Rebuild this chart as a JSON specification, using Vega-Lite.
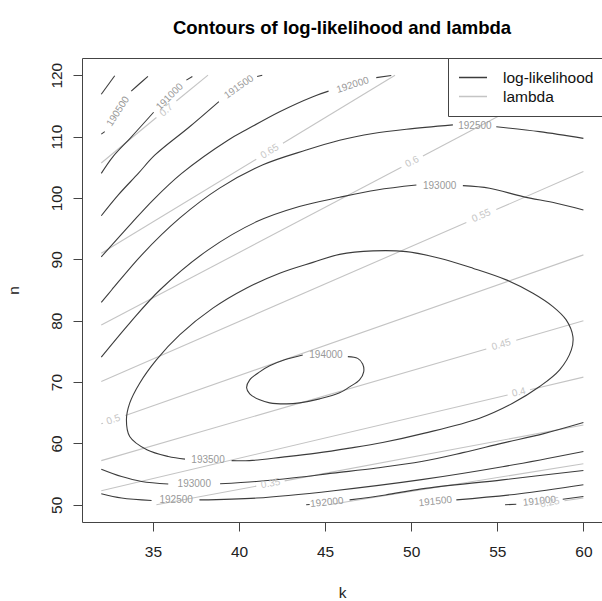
{
"$schema": "https://vega.github.io/schema/vega-lite/v6.json",
"width": 520, "height": 464,
"autosize": "none",
"padding": {"left": 82, "top": 58, "right": 0, "bottom": 79},
"background": "white",
"title": {"text": "Contours of log-likelihood and lambda", "fontSize": 18.5, "font": "Liberation Sans", "fontWeight": "bold", "color": "#000", "anchor": "middle", "baseline": "alphabetic", "offset": 5},
"config": {"view": {"stroke": "#444", "strokeWidth": 1}},
"datasets": {
"curves": [
{"seg":"ll190000","type":"log-likelihood","ord":1,"k":32,"n":116.9},{"seg":"ll190000","type":"log-likelihood","ord":2,"k":32.78,"n":119.9},
{"seg":"ll190500a","type":"log-likelihood","ord":1,"k":32,"n":110.4},{"seg":"ll190500a","type":"log-likelihood","ord":2,"k":32.2,"n":110.8},
{"seg":"ll190500b","type":"log-likelihood","ord":1,"k":33.74,"n":117.4},{"seg":"ll190500b","type":"log-likelihood","ord":2,"k":34.22,"n":118.6},{"seg":"ll190500b","type":"log-likelihood","ord":3,"k":34.71,"n":119.8},
{"seg":"ll191000a","type":"log-likelihood","ord":1,"k":32,"n":104.0},{"seg":"ll191000a","type":"log-likelihood","ord":2,"k":32.67,"n":106.7},{"seg":"ll191000a","type":"log-likelihood","ord":3,"k":33.7,"n":109.8},{"seg":"ll191000a","type":"log-likelihood","ord":4,"k":35.04,"n":113.96},
{"seg":"ll191000b","type":"log-likelihood","ord":1,"k":36.94,"n":119.2},{"seg":"ll191000b","type":"log-likelihood","ord":2,"k":37.29,"n":119.8},
{"seg":"ll191500a","type":"log-likelihood","ord":1,"k":32,"n":97.1},{"seg":"ll191500a","type":"log-likelihood","ord":2,"k":32.99,"n":100.5},{"seg":"ll191500a","type":"log-likelihood","ord":3,"k":34.15,"n":104.0},{"seg":"ll191500a","type":"log-likelihood","ord":4,"k":35.12,"n":107.0},{"seg":"ll191500a","type":"log-likelihood","ord":5,"k":37.13,"n":111.6},{"seg":"ll191500a","type":"log-likelihood","ord":6,"k":38.83,"n":115.7},
{"seg":"ll191500b","type":"log-likelihood","ord":1,"k":41.05,"n":119.8},{"seg":"ll191500b","type":"log-likelihood","ord":2,"k":41.35,"n":120.0},
{"seg":"ll192000a","type":"log-likelihood","ord":1,"k":32,"n":90.4},{"seg":"ll192000a","type":"log-likelihood","ord":2,"k":33.76,"n":95.9},{"seg":"ll192000a","type":"log-likelihood","ord":3,"k":35.02,"n":99.7},{"seg":"ll192000a","type":"log-likelihood","ord":4,"k":36.67,"n":104.0},{"seg":"ll192000a","type":"log-likelihood","ord":5,"k":39.38,"n":109.45},{"seg":"ll192000a","type":"log-likelihood","ord":6,"k":40.42,"n":111.1},{"seg":"ll192000a","type":"log-likelihood","ord":7,"k":42.36,"n":114.05},{"seg":"ll192000a","type":"log-likelihood","ord":8,"k":44.29,"n":116.5},{"seg":"ll192000a","type":"log-likelihood","ord":9,"k":45.2,"n":117.4},
{"seg":"ll192000b","type":"log-likelihood","ord":1,"k":47.97,"n":119.6},{"seg":"ll192000b","type":"log-likelihood","ord":2,"k":48.84,"n":119.95},
{"seg":"ll192500a","type":"log-likelihood","ord":1,"k":32,"n":83.0},{"seg":"ll192500a","type":"log-likelihood","ord":2,"k":32.6,"n":85.0},{"seg":"ll192500a","type":"log-likelihood","ord":3,"k":34.34,"n":90.7},{"seg":"ll192500a","type":"log-likelihood","ord":4,"k":36.55,"n":96.7},{"seg":"ll192500a","type":"log-likelihood","ord":5,"k":38.87,"n":101.6},{"seg":"ll192500a","type":"log-likelihood","ord":6,"k":41.39,"n":105.4},{"seg":"ll192500a","type":"log-likelihood","ord":7,"k":43.9,"n":107.8},{"seg":"ll192500a","type":"log-likelihood","ord":8,"k":45.84,"n":109.4},{"seg":"ll192500a","type":"log-likelihood","ord":9,"k":47.78,"n":110.5},{"seg":"ll192500a","type":"log-likelihood","ord":10,"k":49.72,"n":111.2},{"seg":"ll192500a","type":"log-likelihood","ord":11,"k":52.42,"n":111.9},
{"seg":"ll192500b","type":"log-likelihood","ord":1,"k":54.94,"n":111.6},{"seg":"ll192500b","type":"log-likelihood","ord":2,"k":57.45,"n":110.8},{"seg":"ll192500b","type":"log-likelihood","ord":3,"k":60,"n":109.7},
{"seg":"ll193000a","type":"log-likelihood","ord":1,"k":32,"n":74.05},{"seg":"ll193000a","type":"log-likelihood","ord":2,"k":33.65,"n":79.6},{"seg":"ll193000a","type":"log-likelihood","ord":3,"k":35.4,"n":85.0},{"seg":"ll193000a","type":"log-likelihood","ord":4,"k":38.19,"n":91.5},{"seg":"ll193000a","type":"log-likelihood","ord":5,"k":41.0,"n":96.1},{"seg":"ll193000a","type":"log-likelihood","ord":6,"k":43.5,"n":98.6},{"seg":"ll193000a","type":"log-likelihood","ord":7,"k":45.84,"n":100.1},{"seg":"ll193000a","type":"log-likelihood","ord":8,"k":48,"n":101.3},{"seg":"ll193000a","type":"log-likelihood","ord":9,"k":50.3,"n":102.1},
{"seg":"ll193000b","type":"log-likelihood","ord":1,"k":53.0,"n":102.0},{"seg":"ll193000b","type":"log-likelihood","ord":2,"k":54.55,"n":101.58},{"seg":"ll193000b","type":"log-likelihood","ord":3,"k":56.49,"n":100.21},{"seg":"ll193000b","type":"log-likelihood","ord":4,"k":58.43,"n":99.14},{"seg":"ll193000b","type":"log-likelihood","ord":5,"k":60,"n":98.04},
{"seg":"ll193500","type":"log-likelihood","ord":1,"k":39.57,"n":57.2},{"seg":"ll193500","type":"log-likelihood","ord":2,"k":40.6,"n":57.2},{"seg":"ll193500","type":"log-likelihood","ord":3,"k":42.53,"n":57.77},{"seg":"ll193500","type":"log-likelihood","ord":4,"k":44.5,"n":58.42},{"seg":"ll193500","type":"log-likelihood","ord":5,"k":46.42,"n":59.23},{"seg":"ll193500","type":"log-likelihood","ord":6,"k":48.34,"n":60.15},{"seg":"ll193500","type":"log-likelihood","ord":7,"k":50.78,"n":61.68},{"seg":"ll193500","type":"log-likelihood","ord":8,"k":53.97,"n":64.12},{"seg":"ll193500","type":"log-likelihood","ord":9,"k":55.89,"n":66.56},{"seg":"ll193500","type":"log-likelihood","ord":10,"k":57.46,"n":69.27},{"seg":"ll193500","type":"log-likelihood","ord":11,"k":58.62,"n":71.99},{"seg":"ll193500","type":"log-likelihood","ord":12,"k":59.3,"n":75.24},{"seg":"ll193500","type":"log-likelihood","ord":13,"k":59.39,"n":77.41},{"seg":"ll193500","type":"log-likelihood","ord":14,"k":59.0,"n":80.13},{"seg":"ll193500","type":"log-likelihood","ord":15,"k":58.23,"n":82.3},{"seg":"ll193500","type":"log-likelihood","ord":16,"k":57.07,"n":84.48},{"seg":"ll193500","type":"log-likelihood","ord":17,"k":55.52,"n":86.65},{"seg":"ll193500","type":"log-likelihood","ord":18,"k":53.58,"n":88.55},{"seg":"ll193500","type":"log-likelihood","ord":19,"k":51.65,"n":90.18},{"seg":"ll193500","type":"log-likelihood","ord":20,"k":49.72,"n":91.25},{"seg":"ll193500","type":"log-likelihood","ord":21,"k":47.78,"n":91.37},{"seg":"ll193500","type":"log-likelihood","ord":22,"k":45.84,"n":90.8},{"seg":"ll193500","type":"log-likelihood","ord":23,"k":44.29,"n":89.5},{"seg":"ll193500","type":"log-likelihood","ord":24,"k":42.36,"n":87.74},{"seg":"ll193500","type":"log-likelihood","ord":25,"k":40.42,"n":85.29},{"seg":"ll193500","type":"log-likelihood","ord":26,"k":38.48,"n":82.04},{"seg":"ll193500","type":"log-likelihood","ord":27,"k":36.55,"n":77.69},{"seg":"ll193500","type":"log-likelihood","ord":28,"k":35.2,"n":73.62},{"seg":"ll193500","type":"log-likelihood","ord":29,"k":34.23,"n":69.82},{"seg":"ll193500","type":"log-likelihood","ord":30,"k":33.65,"n":66.56},{"seg":"ll193500","type":"log-likelihood","ord":31,"k":33.46,"n":63.84},{"seg":"ll193500","type":"log-likelihood","ord":32,"k":33.65,"n":61.12},{"seg":"ll193500","type":"log-likelihood","ord":33,"k":34.65,"n":58.96},{"seg":"ll193500","type":"log-likelihood","ord":34,"k":35.89,"n":57.87},{"seg":"ll193500","type":"log-likelihood","ord":35,"k":36.86,"n":57.44},
{"seg":"ll194000","type":"log-likelihood","ord":1,"k":46.32,"n":74.15},{"seg":"ll194000","type":"log-likelihood","ord":2,"k":46.89,"n":73.86},{"seg":"ll194000","type":"log-likelihood","ord":3,"k":47.18,"n":72.96},{"seg":"ll194000","type":"log-likelihood","ord":4,"k":47.24,"n":71.66},{"seg":"ll194000","type":"log-likelihood","ord":5,"k":47.0,"n":70.36},{"seg":"ll194000","type":"log-likelihood","ord":6,"k":46.42,"n":69.22},{"seg":"ll194000","type":"log-likelihood","ord":7,"k":45.84,"n":68.24},{"seg":"ll194000","type":"log-likelihood","ord":8,"k":44.68,"n":67.26},{"seg":"ll194000","type":"log-likelihood","ord":9,"k":43.52,"n":66.61},{"seg":"ll194000","type":"log-likelihood","ord":10,"k":42.77,"n":66.45},{"seg":"ll194000","type":"log-likelihood","ord":11,"k":41.78,"n":66.61},{"seg":"ll194000","type":"log-likelihood","ord":12,"k":41.2,"n":67.1},{"seg":"ll194000","type":"log-likelihood","ord":13,"k":40.62,"n":68.08},{"seg":"ll194000","type":"log-likelihood","ord":14,"k":40.44,"n":69.06},{"seg":"ll194000","type":"log-likelihood","ord":15,"k":40.62,"n":70.36},{"seg":"ll194000","type":"log-likelihood","ord":16,"k":41.2,"n":71.66},{"seg":"ll194000","type":"log-likelihood","ord":17,"k":41.78,"n":72.64},{"seg":"ll194000","type":"log-likelihood","ord":18,"k":42.65,"n":73.62},{"seg":"ll194000","type":"log-likelihood","ord":19,"k":43.7,"n":74.4},
{"seg":"ll193000c","type":"log-likelihood","ord":1,"k":32,"n":55.8},{"seg":"ll193000c","type":"log-likelihood","ord":2,"k":33.18,"n":54.6},{"seg":"ll193000c","type":"log-likelihood","ord":3,"k":34.34,"n":53.8},{"seg":"ll193000c","type":"log-likelihood","ord":4,"k":35.89,"n":53.4},
{"seg":"ll193000d","type":"log-likelihood","ord":1,"k":38.9,"n":53.42},{"seg":"ll193000d","type":"log-likelihood","ord":2,"k":41.0,"n":53.8},{"seg":"ll193000d","type":"log-likelihood","ord":3,"k":43.2,"n":54.4},{"seg":"ll193000d","type":"log-likelihood","ord":4,"k":45.45,"n":55.16},{"seg":"ll193000d","type":"log-likelihood","ord":5,"k":48.0,"n":56.0},{"seg":"ll193000d","type":"log-likelihood","ord":6,"k":50.6,"n":57.05},{"seg":"ll193000d","type":"log-likelihood","ord":7,"k":53.0,"n":58.5},{"seg":"ll193000d","type":"log-likelihood","ord":8,"k":55.3,"n":60.05},{"seg":"ll193000d","type":"log-likelihood","ord":9,"k":57.7,"n":61.6},{"seg":"ll193000d","type":"log-likelihood","ord":10,"k":60,"n":63.4},
{"seg":"ll192500c","type":"log-likelihood","ord":1,"k":32,"n":51.8},{"seg":"ll192500c","type":"log-likelihood","ord":2,"k":33.18,"n":51.1},{"seg":"ll192500c","type":"log-likelihood","ord":3,"k":34.92,"n":50.7},
{"seg":"ll192500d","type":"log-likelihood","ord":1,"k":37.7,"n":50.8},{"seg":"ll192500d","type":"log-likelihood","ord":2,"k":41.02,"n":51.1},{"seg":"ll192500d","type":"log-likelihood","ord":3,"k":45.5,"n":52.3},{"seg":"ll192500d","type":"log-likelihood","ord":4,"k":50.6,"n":54.1},{"seg":"ll192500d","type":"log-likelihood","ord":5,"k":55.3,"n":56.2},{"seg":"ll192500d","type":"log-likelihood","ord":6,"k":60,"n":58.7},
{"seg":"ll192000c","type":"log-likelihood","ord":1,"k":43.9,"n":50.0},{"seg":"ll192000c","type":"log-likelihood","ord":2,"k":44.1,"n":50.05},
{"seg":"ll192000d","type":"log-likelihood","ord":1,"k":46.42,"n":50.8},{"seg":"ll192000d","type":"log-likelihood","ord":2,"k":48.5,"n":51.6},{"seg":"ll192000d","type":"log-likelihood","ord":3,"k":50.6,"n":52.6},{"seg":"ll192000d","type":"log-likelihood","ord":4,"k":55.3,"n":54.07},{"seg":"ll192000d","type":"log-likelihood","ord":5,"k":60,"n":55.6},
{"seg":"ll191500c","type":"log-likelihood","ord":1,"k":52.62,"n":50.8},{"seg":"ll191500c","type":"log-likelihood","ord":2,"k":56.3,"n":51.8},{"seg":"ll191500c","type":"log-likelihood","ord":3,"k":60,"n":53.26},
{"seg":"ll191000c","type":"log-likelihood","ord":1,"k":55.45,"n":50.0},{"seg":"ll191000c","type":"log-likelihood","ord":2,"k":56.1,"n":50.1},
{"seg":"ll191000d","type":"log-likelihood","ord":1,"k":58.8,"n":50.9},{"seg":"ll191000d","type":"log-likelihood","ord":2,"k":60,"n":51.35},
{"seg":"l070a","type":"lambda","ord":1,"k":32,"n":105.7},{"seg":"l070a","type":"lambda","ord":2,"k":35.2,"n":113.1},
{"seg":"l070b","type":"lambda","ord":1,"k":36.36,"n":115.8},{"seg":"l070b","type":"lambda","ord":2,"k":38.2,"n":120},
{"seg":"l065a","type":"lambda","ord":1,"k":32,"n":91.0},{"seg":"l065a","type":"lambda","ord":2,"k":41.0,"n":106.3},
{"seg":"l065b","type":"lambda","ord":1,"k":42.55,"n":108.9},{"seg":"l065b","type":"lambda","ord":2,"k":49.06,"n":120},
{"seg":"l060a","type":"lambda","ord":1,"k":32,"n":79.3},{"seg":"l060a","type":"lambda","ord":2,"k":49.43,"n":105.0},
{"seg":"l060b","type":"lambda","ord":1,"k":50.68,"n":106.85},{"seg":"l060b","type":"lambda","ord":2,"k":59.6,"n":120},
{"seg":"l055a","type":"lambda","ord":1,"k":32,"n":70.1},{"seg":"l055a","type":"lambda","ord":2,"k":53.2,"n":96.0},
{"seg":"l055b","type":"lambda","ord":1,"k":54.94,"n":98.1},{"seg":"l055b","type":"lambda","ord":2,"k":60,"n":104.3},
{"seg":"l050a","type":"lambda","ord":1,"k":32,"n":63.2},{"seg":"l050a","type":"lambda","ord":2,"k":32.1,"n":63.3},
{"seg":"l050b","type":"lambda","ord":1,"k":33.4,"n":64.56},{"seg":"l050b","type":"lambda","ord":2,"k":60,"n":90.72},
{"seg":"l045a","type":"lambda","ord":1,"k":32,"n":57.2},{"seg":"l045a","type":"lambda","ord":2,"k":54.36,"n":75.4},
{"seg":"l045b","type":"lambda","ord":1,"k":56.1,"n":76.82},{"seg":"l045b","type":"lambda","ord":2,"k":60,"n":80.0},
{"seg":"l040a","type":"lambda","ord":1,"k":32,"n":52.3},{"seg":"l040a","type":"lambda","ord":2,"k":55.6,"n":67.9},
{"seg":"l040b","type":"lambda","ord":1,"k":56.9,"n":68.76},{"seg":"l040b","type":"lambda","ord":2,"k":60,"n":70.8},
{"seg":"l035a","type":"lambda","ord":1,"k":35.2,"n":50},{"seg":"l035a","type":"lambda","ord":2,"k":41.0,"n":53.04},
{"seg":"l035b","type":"lambda","ord":1,"k":42.65,"n":53.9},{"seg":"l035b","type":"lambda","ord":2,"k":60,"n":63.0},
{"seg":"l030","type":"lambda","ord":1,"k":45.2,"n":50},{"seg":"l030","type":"lambda","ord":2,"k":60,"n":56.7},
{"seg":"l025","type":"lambda","ord":1,"k":58.9,"n":50.65},{"seg":"l025","type":"lambda","ord":2,"k":60,"n":51.1}
],
"labels": [
{"id":"190500","text":"190500","type":"log-likelihood","k":32.97,"n":114.1},
{"id":"191000u","text":"191000","type":"log-likelihood","k":35.97,"n":116.5},
{"id":"191500u","text":"191500","type":"log-likelihood","k":39.99,"n":118.1},
{"id":"192000u","text":"192000","type":"log-likelihood","k":46.6,"n":118.4},
{"id":"192500u","text":"192500","type":"log-likelihood","k":53.7,"n":111.75},
{"id":"193000u","text":"193000","type":"log-likelihood","k":51.65,"n":102.0},
{"id":"193500","text":"193500","type":"log-likelihood","k":38.2,"n":57.3},
{"id":"194000","text":"194000","type":"log-likelihood","k":45.05,"n":74.45},
{"id":"193000l","text":"193000","type":"log-likelihood","k":37.4,"n":53.42},
{"id":"192500l","text":"192500","type":"log-likelihood","k":36.35,"n":50.73},
{"id":"192000l","text":"192000","type":"log-likelihood","k":45.1,"n":50.4},
{"id":"191500l","text":"191500","type":"log-likelihood","k":51.4,"n":50.55},
{"id":"191000l","text":"191000","type":"log-likelihood","k":57.45,"n":50.6},
{"id":"0.7","text":"0.7","type":"lambda","k":35.78,"n":114.3},
{"id":"0.65","text":"0.65","type":"lambda","k":41.78,"n":107.6},
{"id":"0.6","text":"0.6","type":"lambda","k":50.05,"n":105.9},
{"id":"0.55","text":"0.55","type":"lambda","k":54.07,"n":97.1},
{"id":"0.5","text":"0.5","type":"lambda","k":32.7,"n":63.9},
{"id":"0.45","text":"0.45","type":"lambda","k":55.23,"n":76.1},
{"id":"0.4","text":"0.4","type":"lambda","k":56.25,"n":68.33},
{"id":"0.35","text":"0.35","type":"lambda","k":41.83,"n":53.47},
{"id":"0.25","text":"0.25","type":"lambda","k":58.05,"n":50.35}
]
},
"encoding": {
"x": {"field": "k", "type": "quantitative", "scale": {"domain": [30.88, 61.08], "nice": false, "zero": false},
  "axis": {"title": "k", "values": [35,40,45,50,55,60], "domain": false, "grid": false, "tickColor": "#444", "tickSize": 9, "labelFontSize": 15.5, "labelFont": "Liberation Sans", "labelColor": "#222", "labelPadding": 13, "labelFlush": false, "labelOverlap": false, "titleFontSize": 15.5, "titleFont": "Liberation Sans", "titleFontWeight": "normal", "titleColor": "#222", "titleY": 75, "titleBaseline": "alphabetic"}},
"y": {"field": "n", "type": "quantitative", "scale": {"domain": [47.2, 122.8], "nice": false, "zero": false},
  "axis": {"title": "n", "values": [50,60,70,80,90,100,110,120], "domain": false, "grid": false, "tickColor": "#444", "tickSize": 9, "labelFontSize": 15.5, "labelFont": "Liberation Sans", "labelColor": "#222", "labelAngle": 270, "labelAlign": "center", "labelBaseline": "alphabetic", "labelPadding": 11.5, "labelFlush": false, "labelOverlap": false, "titleFontSize": 15.5, "titleFont": "Liberation Sans", "titleFontWeight": "normal", "titleColor": "#222", "titleAngle": 270, "titleX": -64, "titleY": 232, "titleBaseline": "alphabetic", "titleAlign": "center"}}
},
"layer": [
{"data": {"name": "curves"}, "transform": [{"filter": "datum.type === 'lambda'"}],
 "mark": {"type": "line", "strokeWidth": 1.1, "clip": true},
 "encoding": {"detail": {"field": "seg"}, "order": {"field": "ord", "type": "quantitative"},
   "color": {"field": "type", "type": "nominal", "scale": {"domain": ["log-likelihood", "lambda"], "range": ["#3c3c3c", "#c4c4c4"]},
     "legend": {"title": null, "orient": "none", "legendX": 366, "legendY": 0, "direction": "vertical", "symbolType": "stroke", "symbolSize": 784, "symbolStrokeWidth": 1.3, "labelFontSize": 15.5, "labelFont": "Liberation Sans", "labelColor": "#111", "labelOffset": 15, "padding": 10, "clipHeight": 19, "rowPadding": 0, "strokeColor": "#444", "fillColor": "white", "cornerRadius": 0}}}},
{"data": {"name": "curves"}, "transform": [{"filter": "datum.type === 'log-likelihood'"}],
 "mark": {"type": "line", "strokeWidth": 1.1, "clip": true, "interpolate": "catmull-rom"},
 "encoding": {"detail": {"field": "seg"}, "order": {"field": "ord", "type": "quantitative"},
   "color": {"field": "type", "type": "nominal"}}},
{"data": {"name": "labels"}, "transform": [{"filter": {"field": "id", "oneOf": ["190500"]}}],
 "mark": {"type": "text", "angle": 303, "fontSize": 10, "font": "Liberation Sans", "color": "#999999"}, "encoding": {"text": {"field": "text"}}},
{"data": {"name": "labels"}, "transform": [{"filter": {"field": "id", "oneOf": ["191000u"]}}],
 "mark": {"type": "text", "angle": 315, "fontSize": 10, "font": "Liberation Sans", "color": "#999999"}, "encoding": {"text": {"field": "text"}}},
{"data": {"name": "labels"}, "transform": [{"filter": {"field": "id", "oneOf": ["191500u"]}}],
 "mark": {"type": "text", "angle": 325, "fontSize": 10, "font": "Liberation Sans", "color": "#999999"}, "encoding": {"text": {"field": "text"}}},
{"data": {"name": "labels"}, "transform": [{"filter": {"field": "id", "oneOf": ["192000u"]}}],
 "mark": {"type": "text", "angle": 342, "fontSize": 10, "font": "Liberation Sans", "color": "#999999"}, "encoding": {"text": {"field": "text"}}},
{"data": {"name": "labels"}, "transform": [{"filter": {"field": "id", "oneOf": ["192500u", "193000u", "193500", "194000", "193000l", "192500l"]}}],
 "mark": {"type": "text", "fontSize": 10, "font": "Liberation Sans", "color": "#999999"}, "encoding": {"text": {"field": "text"}}},
{"data": {"name": "labels"}, "transform": [{"filter": {"field": "id", "oneOf": ["192000l", "191500l", "191000l"]}}],
 "mark": {"type": "text", "angle": 354, "fontSize": 10, "font": "Liberation Sans", "color": "#999999"}, "encoding": {"text": {"field": "text"}}},
{"data": {"name": "labels"}, "transform": [{"filter": {"field": "id", "oneOf": ["0.7"]}}],
 "mark": {"type": "text", "angle": 320.5, "fontSize": 10, "font": "Liberation Sans", "color": "#c6c6c6"}, "encoding": {"text": {"field": "text"}}},
{"data": {"name": "labels"}, "transform": [{"filter": {"field": "id", "oneOf": ["0.65"]}}],
 "mark": {"type": "text", "angle": 328.8, "fontSize": 10, "font": "Liberation Sans", "color": "#c6c6c6"}, "encoding": {"text": {"field": "text"}}},
{"data": {"name": "labels"}, "transform": [{"filter": {"field": "id", "oneOf": ["0.6"]}}],
 "mark": {"type": "text", "angle": 332.3, "fontSize": 10, "font": "Liberation Sans", "color": "#c6c6c6"}, "encoding": {"text": {"field": "text"}}},
{"data": {"name": "labels"}, "transform": [{"filter": {"field": "id", "oneOf": ["0.55"]}}],
 "mark": {"type": "text", "angle": 336.5, "fontSize": 10, "font": "Liberation Sans", "color": "#c6c6c6"}, "encoding": {"text": {"field": "text"}}},
{"data": {"name": "labels"}, "transform": [{"filter": {"field": "id", "oneOf": ["0.5"]}}],
 "mark": {"type": "text", "angle": 340.7, "fontSize": 10, "font": "Liberation Sans", "color": "#c6c6c6"}, "encoding": {"text": {"field": "text"}}},
{"data": {"name": "labels"}, "transform": [{"filter": {"field": "id", "oneOf": ["0.45"]}}],
 "mark": {"type": "text", "angle": 343.8, "fontSize": 10, "font": "Liberation Sans", "color": "#c6c6c6"}, "encoding": {"text": {"field": "text"}}},
{"data": {"name": "labels"}, "transform": [{"filter": {"field": "id", "oneOf": ["0.4"]}}],
 "mark": {"type": "text", "angle": 346.7, "fontSize": 10, "font": "Liberation Sans", "color": "#c6c6c6"}, "encoding": {"text": {"field": "text"}}},
{"data": {"name": "labels"}, "transform": [{"filter": {"field": "id", "oneOf": ["0.35", "0.25"]}}],
 "mark": {"type": "text", "angle": 349.4, "fontSize": 10, "font": "Liberation Sans", "color": "#c6c6c6"}, "encoding": {"text": {"field": "text"}}}
]
}
